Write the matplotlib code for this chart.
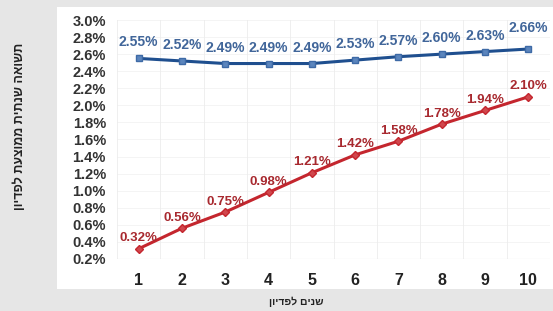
import matplotlib
matplotlib.use("Agg")
import matplotlib.pyplot as plt
from matplotlib.patches import Rectangle

plt.rcParams['font.family'] = ['Liberation Sans', 'DejaVu Sans']

years = [1, 2, 3, 4, 5, 6, 7, 8, 9, 10]
blue_vals = [2.55, 2.52, 2.49, 2.49, 2.49, 2.53, 2.57, 2.60, 2.63, 2.66]
red_vals = [0.32, 0.56, 0.75, 0.98, 1.21, 1.42, 1.58, 1.78, 1.94, 2.10]
y_ticks = [0.2, 0.4, 0.6, 0.8, 1.0, 1.2, 1.4, 1.6, 1.8, 2.0, 2.2, 2.4, 2.6, 2.8, 3.0]
x_title = "שנים לפדיון"
y_title = "תשואה שנתית ממוצעת לפדיון"

def heb(s):
    return s[::-1]

W, H = 553, 311
fig = plt.figure(figsize=(W / 100, H / 100), dpi=100)
fig.patch.set_facecolor('#e6e6e6')

# white panel
fig.patches.append(Rectangle((57 / W, 1 - 289 / H), (553 - 57) / W, (289 - 7) / H,
                             transform=fig.transFigure, facecolor='white',
                             edgecolor='none', zorder=-5))

ax = fig.add_axes([117 / W, 1 - 259 / H, (550 - 117) / W, (259 - 20) / H])
ax.set_zorder(2)
ax.set_facecolor('white')
ax.set_xlim(0.5, 10.5)
ax.set_ylim(0.2, 3.0)

for s in ax.spines.values():
    s.set_visible(False)
ax.axhline(0.2, color='#d9d9d9', lw=0.8, zorder=1)

# grid
for yv in y_ticks[1:]:
    ax.axhline(yv, color='#f2f2f2', lw=0.6, zorder=0.5)
for xv in [i + 0.5 for i in range(0, 11)]:
    ax.axvline(xv, color='#ececec', lw=0.6, zorder=0.5)

ax.plot(years, blue_vals, color='#1f4f8f', lw=2.2, marker='s', ms=5,
        mfc='#5b85bd', mec='#3e6aa6', zorder=3)
ax.plot(years, red_vals, color='#c4262e', lw=2.2, marker='D', ms=4.5,
        mfc='#d0474d', mec='#c4262e', zorder=3)

for x, v in zip(years, blue_vals):
    dy = 11.5 if x != 10 else 15
    ax.annotate(f"{v:.2f}%", (x, v), xytext=(0, dy), textcoords='offset points',
                ha='center', va='center', fontsize=10, fontweight='semibold',
                color='#41669a')
for x, v in zip(years, red_vals):
    ax.annotate(f"{v:.2f}%", (x, v), xytext=(0, 7.5), textcoords='offset points',
                ha='center', va='center', fontsize=9.5, fontweight='bold',
                color='#a8292f')

ax.set_yticks(y_ticks)
ax.set_yticklabels([f"{t:.1f}%" for t in y_ticks], fontsize=10.5, fontweight='bold',
                   color='#333333')
ax.set_xticks(years)
ax.set_xticklabels([str(y) for y in years], fontsize=11.5, fontweight='bold',
                   color='#222222')
ax.tick_params(axis='both', length=0)
ax.tick_params(axis='y', pad=8)
ax.tick_params(axis='x', pad=10)

fig.text(296 / W, 1 - 302 / H, heb(x_title), ha='center', va='center',
         fontsize=7.5, fontweight='bold', color='#222222')
fig.text(20 / W, 1 - 126 / H, heb(y_title), ha='center', va='center',
         rotation=90, fontsize=9, fontweight='bold', color='#222222')

fig.savefig('out.png', dpi=100, facecolor=fig.get_facecolor())
